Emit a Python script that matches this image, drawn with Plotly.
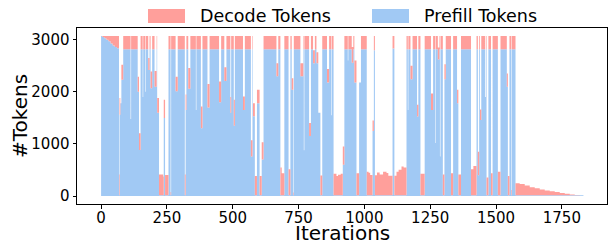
import plotly.graph_objects as go

# Segment start iterations (each value holds until the next start); last segment ends at END_ITER
iter_start = [
    0, 5, 12, 20, 28, 36, 44, 52, 60,
    68, 70, 73, 77, 84, 112, 114, 139, 144, 150,
    158, 160, 168, 170, 179, 184, 188, 194, 203, 211,
    213, 220, 236, 238, 243, 256, 264, 266, 283, 291,
    318, 321, 324, 331, 339, 360, 362, 379, 385, 404,
    412, 448, 456, 468, 476, 491, 494, 504, 508, 539,
    546, 569, 575, 577, 584, 592, 602, 610, 617, 666,
    673, 681, 686, 696, 712, 719, 724, 730, 732, 757,
    768, 770, 772, 790, 797, 805, 812, 818, 825, 833,
    840, 858, 866, 875, 877, 883, 894, 900, 910, 918,
    924, 937, 939, 952, 958, 962, 970, 980, 987, 1009,
    1016, 1022, 1031, 1036, 1040, 1048, 1058, 1071, 1084, 1091,
    1107, 1114, 1122, 1130, 1141, 1149, 1160, 1165, 1167, 1175,
    1183, 1200, 1205, 1213, 1229, 1253, 1261, 1270, 1272, 1279,
    1285, 1287, 1289, 1298, 1304, 1309, 1329, 1337, 1352, 1357,
    1367, 1405, 1414, 1426, 1431, 1436, 1439, 1444, 1458, 1461,
    1464, 1471, 1481, 1487, 1507, 1517, 1541, 1545, 1551, 1557,
    1559, 1574, 1590, 1609, 1628, 1647, 1666, 1685, 1704, 1723,
    1742, 1761, 1780, 1799, 1818,
]
END_ITER = 1832

prefill_tokens = [
    3072, 3055, 3030, 3000, 2970, 2930, 2890, 2860, 2835,
    15, 1560, 1780, 2230, 2816, 1480, 2816, 2000, 885, 2816,
    1900, 2816, 2000, 2816, 2420, 2816, 2070, 2816, 2100, 2816,
    1600, 15, 15, 1500, 15, 2816, 15, 2816, 2010, 2816,
    15, 1650, 2816, 2060, 2816, 1650, 2816, 1300, 2816, 1700,
    2816, 1800, 2816, 2210, 2816, 1600, 2816, 1350, 2816, 1650,
    2816, 760, 2816, 1530, 15, 1780, 15, 700, 2816, 2300,
    2816, 15, 15, 2816, 15, 2816, 2040, 15, 2816, 2300,
    2816, 880, 2816, 1150, 2816, 2550, 2816, 2550, 1600, 15,
    2816, 2180, 2816, 1550, 2816, 15, 15, 15, 15, 600,
    2816, 2600, 2816, 2560, 2816, 2180, 15, 2180, 2816, 15,
    15, 15, 1250, 2800, 15, 15, 15, 15, 15, 15,
    2830, 15, 15, 15, 15, 15, 2816, 1650, 2816, 2240,
    2816, 1525, 2816, 15, 2816, 1650, 2816, 1020, 2816, 2620,
    2816, 760, 2816, 15, 2240, 2816, 15, 2816, 1780, 15,
    2816, 15, 15, 2816, 400, 2816, 1460, 2816, 1900, 2816,
    15, 2816, 15, 2816, 15, 2816, 2100, 15, 2816, 15,
    2816, 15, 15, 15, 15, 15, 15, 15, 15, 15,
    15, 15, 15, 15, 15,
]

decode_tokens = [
    0, 17, 42, 72, 102, 142, 182, 212, 237,
    400, 320, 0, 290, 256, 0, 256, 290, 320, 256,
    0, 256, 0, 256, 230, 256, 320, 256, 300, 256,
    280, 400, 360, 350, 390, 256, 60, 256, 280, 256,
    400, 300, 256, 400, 256, 0, 256, 420, 256, 450,
    256, 400, 256, 260, 256, 300, 256, 500, 256, 260,
    256, 310, 256, 250, 370, 260, 370, 330, 256, 250,
    256, 530, 420, 256, 500, 256, 220, 50, 256, 250,
    256, 0, 256, 250, 256, 250, 256, 210, 0, 380,
    256, 260, 256, 0, 256, 410, 370, 395, 410, 350,
    256, 0, 256, 300, 256, 420, 420, 0, 256, 450,
    430, 390, 200, 272, 385, 435, 400, 450, 425, 372,
    242, 372, 450, 487, 551, 530, 256, 0, 256, 260,
    256, 225, 256, 410, 256, 320, 256, 0, 256, 230,
    256, 0, 256, 400, 290, 256, 420, 256, 260, 400,
    256, 500, 560, 256, 450, 256, 200, 256, 0, 256,
    340, 256, 420, 256, 450, 256, 250, 370, 256, 100,
    256, 230, 217, 185, 155, 133, 110, 93, 77, 60,
    43, 27, 15, 5, 0,
]

assert len(iter_start) == len(prefill_tokens) == len(decode_tokens)

x_ticks = [0, 250, 500, 750, 1000, 1250, 1500, 1750]
y_ticks = [0, 1000, 2000, 3000]

DECODE_COLOR = "#ff9f9b"
PREFILL_COLOR = "#a1c9f4"
FONT = "DejaVu Sans"

xs = iter_start + [END_ITER]
yp = prefill_tokens + [prefill_tokens[-1]]
yd = decode_tokens + [decode_tokens[-1]]

fig = go.Figure()
fig.add_trace(go.Scatter(
    x=xs, y=yp, mode="lines", line=dict(width=0, shape="hv", color=PREFILL_COLOR),
    stackgroup="one", fillcolor=PREFILL_COLOR, name="Prefill Tokens", showlegend=False,
    hoverinfo="skip"))
fig.add_trace(go.Scatter(
    x=xs, y=yd, mode="lines", line=dict(width=0, shape="hv", color=DECODE_COLOR),
    stackgroup="one", fillcolor=DECODE_COLOR, name="Decode Tokens", showlegend=False,
    hoverinfo="skip"))

# plot area geometry in pixels
L, R, T, B = 77, 3, 28, 41
W, H = 610, 245
pw, ph = W - L - R, H - T - B

def px_x(px):
    return (px - L) / pw

def px_y(py):
    return (H - B - py) / ph

# manual legend (wide patches like the reference)
legend_items = [("Decode Tokens", DECODE_COLOR, 148, 185, 198),
                ("Prefill Tokens", PREFILL_COLOR, 372, 409, 422)]
for label, col, x0, x1, tx in legend_items:
    fig.add_shape(type="rect", xref="paper", yref="paper",
                  x0=px_x(x0), x1=px_x(x1), y0=px_y(23), y1=px_y(9),
                  fillcolor=col, line=dict(width=0))
    fig.add_annotation(text=label, xref="paper", yref="paper",
                       x=px_x(tx), y=px_y(16), xanchor="left", yanchor="middle",
                       showarrow=False, font=dict(family=FONT, size=17.5, color="black"))

fig.add_annotation(text="Iterations", xref="paper", yref="paper",
                   x=0.5, y=px_y(233), xanchor="center", yanchor="middle",
                   showarrow=False, borderpad=0,
                   font=dict(family=FONT, size=20, color="black"))
fig.add_annotation(text="#Tokens", xref="paper", yref="paper", textangle=-90,
                   x=px_x(20), y=0.5, xanchor="center", yanchor="middle",
                   showarrow=False, font=dict(family=FONT, size=20, color="black"))

axis_common = dict(showgrid=False, zeroline=False, showline=True, mirror=True,
                   linecolor="black", linewidth=1, ticks="outside", ticklen=3.5,
                   tickwidth=1, tickcolor="black",
                   tickfont=dict(family=FONT, size=15, color="black"))

fig.update_layout(
    width=W, height=H,
    margin=dict(l=L, r=R, t=T, b=B),
    plot_bgcolor="white", paper_bgcolor="white",
    xaxis=dict(range=[-91.5, 1921.5], tickvals=x_ticks, ticklabelstandoff=-4,
               **axis_common),
    yaxis=dict(range=[-153.6, 3225.6], tickvals=y_ticks, **axis_common),
    showlegend=False,
)

fig.write_html(
    "out.html",
    config={"displayModeBar": False, "staticPlot": True},
    post_script="document.body.style.margin='0';document.body.style.padding='0';"
                "document.body.style.overflow='hidden';",
)
